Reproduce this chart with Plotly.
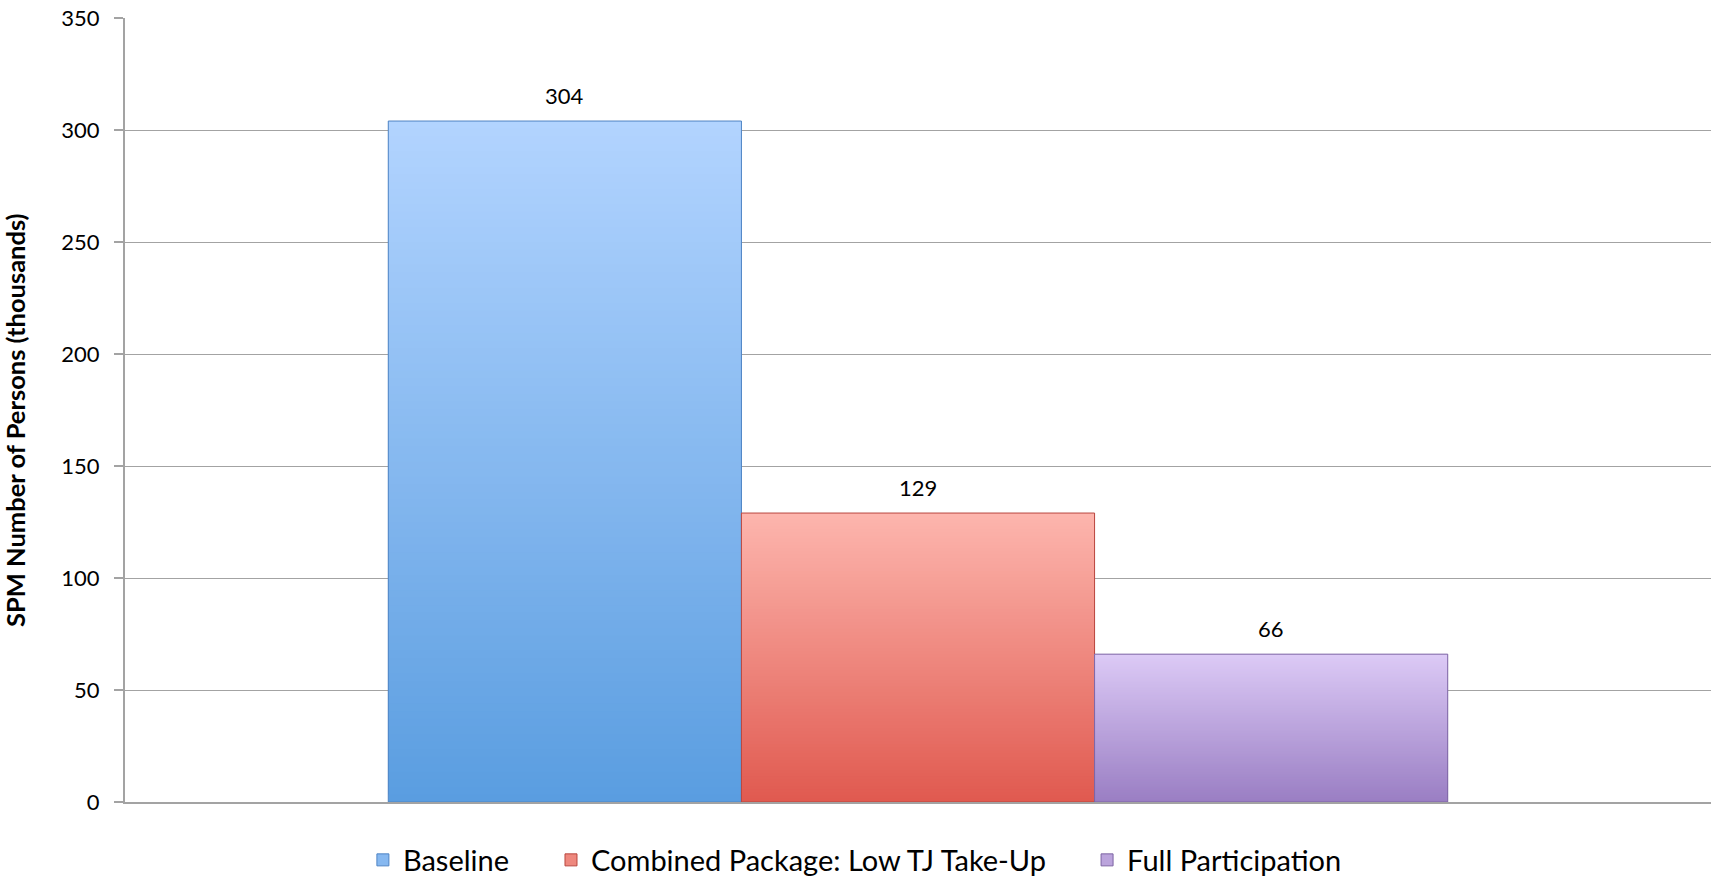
import plotly.graph_objects as go

# Data
series_names = ["Baseline", "Combined Package: Low TJ Take-Up", "Full Participation"]
persons_thousands = [304, 129, 66]
y_ticks = [0, 50, 100, 150, 200, 250, 300, 350]
axis_title = "SPM Number of Persons (thousands)"

# Styling: (bottom colour, top colour, edge colour) for each series
palette = [
    ((90, 157, 224), (178, 212, 255), "#4f84c4"),
    ((224, 89, 79), (253, 182, 174), "#b9473f"),
    ((154, 126, 195), (220, 202, 246), "#7d64a3"),
]
# left edge (paper units) of each series' legend entry
legend_x = [0.150, 0.2686, 0.6066]

FONT = "Lato, 'Open Sans', sans-serif"
GRID = "#a3a3a3"
N_STEPS = 90
BARGAP = 0.332


def mix(c0, c1, t):
    return "rgb({},{},{})".format(*[round(a + (b - a) * t) for a, b in zip(c0, c1)])


fig = go.Figure()
n = len(series_names)
bar_w = (1 - BARGAP) / n
legend_ids = ["legend", "legend2", "legend3"]

for i, (name, val) in enumerate(zip(series_names, persons_thousands)):
    c_bot, c_top, edge = palette[i]
    step = val / N_STEPS
    # vertical gradient: each slice runs from its base up to the bar top,
    # later (lighter) slices cover the upper part of earlier ones
    bases = [k * step for k in range(N_STEPS)]
    heights = [val - b for b in bases]
    colors = [mix(c_bot, c_top, (k + 0.5) / N_STEPS) for k in range(N_STEPS)]
    fig.add_trace(go.Bar(
        x=[0] * N_STEPS, y=heights, base=bases,
        marker=dict(color=colors, line=dict(width=0)),
        offsetgroup=str(i), showlegend=False, hoverinfo="skip",
    ))
    # bar outline
    fig.add_trace(go.Bar(
        x=[0], y=[val], name=name,
        marker=dict(color="rgba(0,0,0,0)", line=dict(color=edge, width=1)),
        offsetgroup=str(i), showlegend=False,
    ))
    # legend swatch
    fig.add_trace(go.Bar(
        x=[None], y=[None], name=name,
        marker=dict(color=mix(c_bot, c_top, 0.5), line=dict(color=edge, width=1)),
        offsetgroup=str(i), showlegend=True, legend=legend_ids[i],
    ))
    # value label above the bar
    fig.add_annotation(
        x=(i - (n - 1) / 2) * bar_w, y=val, text=str(val),
        showarrow=False, yanchor="bottom", yshift=10,
        font=dict(family=FONT, size=22, color="#000000"),
    )

fig.add_annotation(
    text=f"<b>{axis_title}</b>", textangle=-90,
    xref="paper", yref="paper", x=0, y=0.5, xanchor="center", yanchor="middle",
    xshift=-110, yshift=-10, showarrow=False,
    font=dict(family=FONT, size=25.5, color="#000000"),
)

legend_style = dict(
    orientation="h", xanchor="left", y=-0.074, yanchor="middle",
    font=dict(family=FONT, size=29, color="#000000"),
    itemwidth=30, bgcolor="rgba(0,0,0,0)",
)

fig.update_layout(
    width=1712, height=877,
    margin=dict(l=125, r=1, t=18, b=75, autoexpand=False),
    paper_bgcolor="white", plot_bgcolor="white",
    barmode="group", bargap=BARGAP, bargroupgap=0,
    font=dict(family=FONT, size=22, color="#000000"),
    legend=dict(x=legend_x[0], **legend_style),
    legend2=dict(x=legend_x[1], **legend_style),
    legend3=dict(x=legend_x[2], **legend_style),
    xaxis=dict(
        range=[-0.5, 0.5], showticklabels=False, showgrid=False,
        zeroline=False, showline=True, linecolor=GRID, linewidth=2,
        ticks="", fixedrange=True,
    ),
    yaxis=dict(
        range=[0, 350], tickvals=y_ticks, showgrid=True, gridcolor=GRID,
        gridwidth=1, zeroline=False, showline=True, linecolor=GRID,
        linewidth=2, ticks="outside", ticklen=9, tickcolor=GRID, tickwidth=2,
        ticklabelstandoff=10, tickfont=dict(family=FONT, size=22),
    ),
)

fig.write_html("out.html")
